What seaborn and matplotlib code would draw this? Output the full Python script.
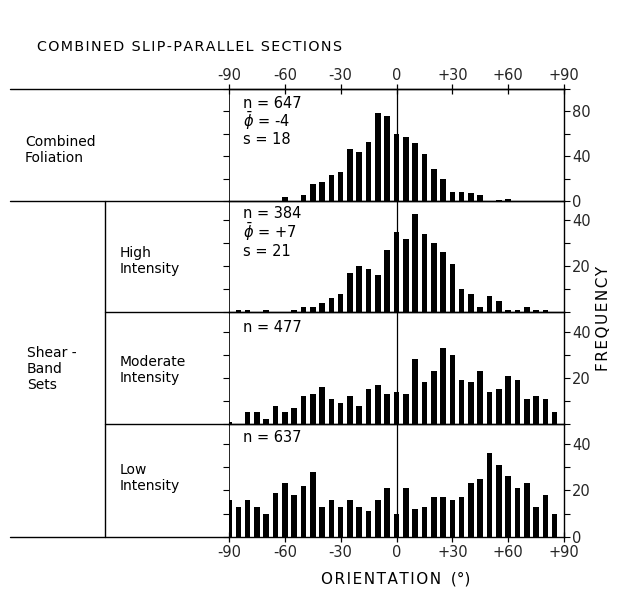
import numpy as np
import pandas as pd
import matplotlib
matplotlib.use("Agg")
import matplotlib.pyplot as plt
import seaborn as sns
from matplotlib.lines import Line2D

# ---------------- data (frequency per 5-degree class) ----------------
orientation = [-90, -85, -80, -75, -70, -65, -60, -55, -50, -45, -40, -35,
               -30, -25, -20, -15, -10, -5, 0, 5, 10, 15, 20, 25,
               30, 35, 40, 45, 50, 55, 60, 65, 70, 75, 80, 85]

combined_foliation = [0, 0, 0, 0, 0, 0, 4, 0, 5, 15, 17, 23,
                      26, 46, 44, 53, 79, 76, 60, 57, 52, 42, 29, 20,
                      8, 8, 7, 5, 0, 1, 2, 0, 0, 0, 0, 0]
high_intensity = [0, 1, 1, 0, 1, 0, 0, 1, 2, 2, 4, 6,
                  8, 17, 20, 19, 16, 27, 35, 32, 43, 34, 30, 26,
                  21, 10, 8, 2, 7, 5, 1, 1, 2, 1, 1, 0]
moderate_intensity = [1, 0, 5, 5, 2, 8, 5, 7, 12, 13, 16, 11,
                      9, 12, 8, 15, 17, 13, 14, 13, 28, 18, 23, 33,
                      30, 19, 18, 23, 14, 15, 21, 19, 11, 12, 11, 5]
low_intensity = [16, 13, 16, 13, 10, 19, 23, 18, 22, 28, 13, 16,
                 13, 16, 13, 11, 16, 21, 10, 21, 12, 13, 17, 17,
                 16, 17, 23, 25, 36, 31, 26, 21, 23, 13, 18, 10]

panel_stats = [["n = 647", r"$\bar{\phi}$ = -4", "s = 18"],
               ["n = 384", r"$\bar{\phi}$ = +7", "s = 21"],
               ["n = 477"],
               ["n = 637"]]

x_ticks = [-90, -60, -30, 0, 30, 60, 90]
x_tick_labels = ["-90", "-60", "-30", "0", "+30", "+60", "+90"]

# ---------------- style ----------------
sns.set_theme(style="white")
plt.rcParams['font.family'] = ['DejaVu Sans']
plt.rcParams['mathtext.fontset'] = 'dejavusans'

W, H = 620, 593
fig = plt.figure(figsize=(W / 100, H / 100), dpi=100)
fig.patch.set_facecolor("white")


def fx(px):
    return px / W


def fy(py):
    return 1 - py / H


X0, X1 = 229, 564
bounds = [89, 201, 312, 424, 537]

series = [combined_foliation, high_intensity, moderate_intensity, low_intensity]
ylims = [100, 48.5, 48.5, 48.5]
major_y = [[0, 40, 80], [20, 40], [20, 40], [0, 20, 40]]
minor_y = [[20, 60, 100], [0, 10, 30], [0, 10, 30], [10, 30]]
stat_y = [[103, 121, 140], [213, 232, 252], [327], [438]]

for i, vals in enumerate(series):
    top, bot = bounds[i], bounds[i + 1]
    ax = fig.add_axes([fx(X0), fy(bot), (X1 - X0) / W, (bot - top) / H])
    df = pd.DataFrame({"orientation": orientation, "count": vals})
    sns.barplot(data=df, x="orientation", y="count", native_scale=True,
                width=0.6, color="black", saturation=1, errorbar=None,
                edgecolor="black", linewidth=0, ax=ax)
    ax.set_xlim(-90, 90)
    ax.set_ylim(0, ylims[i])
    ax.set_xlabel("")
    ax.set_ylabel("")
    ax.set_facecolor("none")
    ax.axvline(0, color="black", lw=0.9, zorder=4)
    for name, sp in ax.spines.items():
        sp.set_color("black")
        sp.set_linewidth(0.6 if name == "left" else 1.0)

    ax.set_yticks(major_y[i])
    ax.set_yticklabels([str(v) for v in major_y[i]])
    ax.set_yticks(minor_y[i], minor=True)
    ax.tick_params(axis="y", which="both", left=True, right=True,
                   labelleft=False, labelright=True, direction="out",
                   length=4, width=0.8, color="black", labelsize=10.5, pad=2)

    ax.set_xticks(x_ticks)
    if i == 0:
        ax.set_xticklabels(x_tick_labels)
        ax.tick_params(axis="x", top=True, labeltop=True, bottom=False,
                       labelbottom=False, direction="inout", length=7,
                       width=0.9, color="black", labelsize=10.5, pad=1)
    elif i == 3:
        ax.set_xticklabels(x_tick_labels)
        ax.tick_params(axis="x", top=False, labeltop=False, bottom=True,
                       labelbottom=True, direction="inout", length=7,
                       width=0.9, color="black", labelsize=10.5, pad=2)
    else:
        ax.tick_params(axis="x", top=False, bottom=False,
                       labeltop=False, labelbottom=False)

    for txt, ty in zip(panel_stats[i], stat_y[i]):
        fig.text(fx(243), fy(ty), txt, ha="left", va="center",
                 fontsize=10.5, color="black")

# ---------------- table lines on the left ----------------
lines = [((10, 565), (89, 89)),
         ((10, X0), (201, 201)),
         ((105, X0), (312, 312)),
         ((105, X0), (424, 424)),
         ((10, X0), (537, 537)),
         ((105, 105), (201, 537))]
for (xa, xb), (ya, yb) in lines:
    fig.add_artist(Line2D([fx(xa), fx(xb)], [fy(ya), fy(yb)],
                          transform=fig.transFigure, color="black", lw=1.0))

# ---------------- labels ----------------
title = "COMBINED SLIP-PARALLEL SECTIONS"
fig.text(fx(37), fy(47), "\u200a".join(title), ha="left",
         va="center", fontsize=10.3, color="black")
fig.text(fx(25), fy(150), "Combined\nFoliation", ha="left", va="center",
         fontsize=10, linespacing=1.25, color="black")
fig.text(fx(27), fy(369), "Shear -\nBand\nSets", ha="left", va="center",
         fontsize=10, linespacing=1.2, color="black")
fig.text(fx(120), fy(261), "High\nIntensity", ha="left", va="center",
         fontsize=10, linespacing=1.25, color="black")
fig.text(fx(120), fy(370), "Moderate\nIntensity", ha="left", va="center",
         fontsize=10, linespacing=1.25, color="black")
fig.text(fx(120), fy(478), "Low\nIntensity", ha="left", va="center",
         fontsize=10, linespacing=1.25, color="black")

fig.text(fx(396), fy(579), "\u200a".join("ORIENTATION") + "  (°)",
         ha="center", va="center", fontsize=11, color="black")
fig.text(fx(604), fy(318), "\u200a".join("FREQUENCY"), ha="center",
         va="center", rotation=90, fontsize=11, color="black")

fig.savefig("out.png", dpi=100, facecolor="white")
